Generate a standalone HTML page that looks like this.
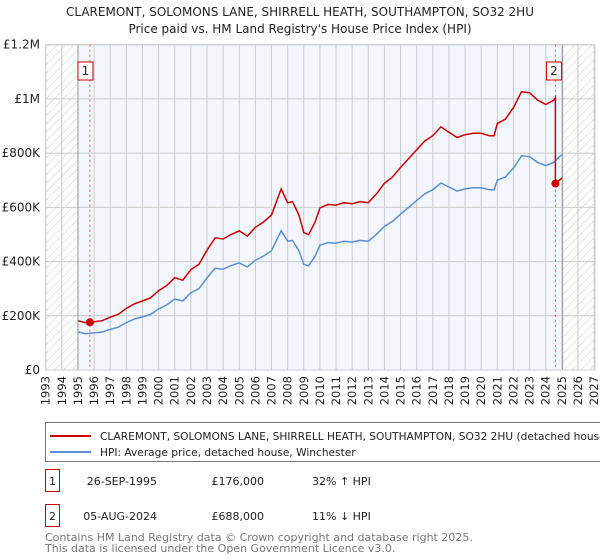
<!DOCTYPE html>
<html><head><meta charset="utf-8"><style>
body{margin:0;width:600px;height:560px;background:#fff;font-family:"Liberation Sans","DejaVu Sans",sans-serif;overflow:hidden}
svg{position:absolute;left:0;top:0}
text{font-family:"DejaVu Sans","Liberation Sans",sans-serif}
</style></head><body>
<svg id="chart" width="600" height="560" viewBox="0 0 600 560"></svg>
<script>
const hpiYears=[1995,1995.5,1996,1996.5,1997,1997.5,1998,1998.5,1999,1999.5,2000,2000.5,2001,2001.5,2002,2002.5,2003,2003.5,2004,2004.5,2005,2005.5,2006,2006.5,2007,2007.6,2008,2008.3,2008.7,2009,2009.3,2009.7,2010,2010.5,2011,2011.5,2012,2012.5,2013,2013.5,2014,2014.5,2015,2015.5,2016,2016.5,2017,2017.5,2018,2018.5,2019,2019.5,2020,2020.5,2020.8,2021,2021.5,2022,2022.5,2023,2023.5,2024,2024.5,2024.6,2025];
const hpiValues=[140,134,137,140,150,158,175,188,196,205,225,240,262,255,285,300,340,375,372,385,395,380,405,420,440,514,475,478,440,390,384,420,460,470,468,475,472,478,475,500,530,548,575,600,625,650,665,690,675,660,668,672,672,665,665,700,712,745,790,787,766,754,766,773,795];
const sale1Year=1995.74, sale1Price=176;
const sale2Year=2024.6, sale2Price=688;
const yTicks=[0,200,400,600,800,1000,1200];
const yTickLabels=["£0","£200K","£400K","£600K","£800K","£1M","£1.2M"];
const xTickYears=[1993,1994,1995,1996,1997,1998,1999,2000,2001,2002,2003,2004,2005,2006,2007,2008,2009,2010,2011,2012,2013,2014,2015,2016,2017,2018,2019,2020,2021,2022,2023,2024,2025,2026,2027];

const svg=document.getElementById('chart');
const NS='http://www.w3.org/2000/svg';
const L=45.7,R=595,T=44.7,B=370;
const x=y=>L+(y-1993)*16.13;
const yv=v=>B-v*(B-T)/1200;
function mk(tag,attrs,parent){const e=document.createElementNS(NS,tag);for(const k in attrs)e.setAttribute(k,attrs[k]);(parent||svg).appendChild(e);return e;}
function interp(t){for(let i=0;i<hpiYears.length-1;i++){if(t>=hpiYears[i]&&t<=hpiYears[i+1]){const f=(t-hpiYears[i])/(hpiYears[i+1]-hpiYears[i]);return hpiValues[i]+f*(hpiValues[i+1]-hpiValues[i]);}}return hpiValues[hpiValues.length-1];}

let t=mk('text',{x:300,y:16,'text-anchor':'middle','font-size':12,fill:'#222'});t.textContent="CLAREMONT, SOLOMONS LANE, SHIRRELL HEATH, SOUTHAMPTON, SO32 2HU";

t=mk('text',{x:300,y:33,'text-anchor':'middle','font-size':12,fill:'#222'});t.textContent="Price paid vs. HM Land Registry's House Price Index (HPI)";


const defs=mk('defs',{});
const pat=mk('pattern',{id:'hatch',width:6,height:6,patternUnits:'userSpaceOnUse',patternTransform:'rotate(45)'},defs);
mk('line',{x1:0,y1:0,x2:0,y2:6,stroke:'#ccc','stroke-width':1},pat);

let bg=mk('rect',{x:L,y:T,width:R-L,height:B-T,fill:'#f3f6fd'});

mk('rect',{x:L,y:T,width:x(1995)-L,height:B-T,fill:'#fff'});
let h1b=mk('rect',{x:L,y:T,width:x(1995)-L,height:B-T,fill:'url(#hatch)'});

mk('rect',{x:x(2025.05),y:T,width:R-x(2025.05),height:B-T,fill:'#fff'});
let h2b=mk('rect',{x:x(2025.05),y:T,width:R-x(2025.05),height:B-T,fill:'url(#hatch)'});


xTickYears.forEach(yr=>{
  const g=mk('line',{x1:x(yr),x2:x(yr),y1:T,y2:B,stroke:'#ccc','stroke-width':1});
  
  const lb=mk('text',{x:0,y:0,'font-size':11.5,fill:'#222','text-anchor':'end',transform:`translate(${x(yr)+4},${B+6}) rotate(-90)`});
  lb.textContent=yr;
  
});
yTicks.forEach((v,i)=>{
  const g=mk('line',{x1:L,x2:R,y1:yv(v),y2:yv(v),stroke:'#ccc','stroke-width':1});
  
  const lb=mk('text',{x:40,y:yv(v)+4,'font-size':12,fill:'#222','text-anchor':'end'});
  lb.textContent=yTickLabels[i];
  
});
mk('line',{x1:x(1995),x2:x(1995),y1:T,y2:B,stroke:'#999','stroke-width':1});
mk('line',{x1:x(2025.05),x2:x(2025.05),y1:T,y2:B,stroke:'#999','stroke-width':1});
mk('rect',{x:L,y:T,width:R-L,height:B-T,fill:'none',stroke:'#ccc'});

[sale1Year,sale2Year].forEach(sy=>{
  const v=mk('line',{x1:x(sy),x2:x(sy),y1:T,y2:B,stroke:'#e55','stroke-width':1,'stroke-dasharray':'2,3'});
  
});

let bp=hpiYears.map((yr,i)=>`${i?'L':'M'}${x(yr).toFixed(1)},${yv(hpiValues[i]).toFixed(1)}`).join(' ');
let blue=mk('path',{d:bp,fill:'none',stroke:'#5b8fd4','stroke-width':1.5});


const r1=sale1Price/interp(sale1Year), r2=sale2Price/interp(sale2Year);
let pts=[];
hpiYears.forEach((yr,i)=>{if(yr<sale2Year)pts.push([x(yr),yv(hpiValues[i]*r1)]);});
pts.push([x(sale2Year),yv(interp(sale2Year)*r1)]);
pts.push([x(sale2Year),yv(sale2Price)]);
pts.push([x(2025),yv(interp(2025)*r2)]);
let red=mk('path',{d:pts.map((p,i)=>`${i?'L':'M'}${p[0].toFixed(1)},${p[1].toFixed(1)}`).join(' '),fill:'none',stroke:'#cc0000','stroke-width':1.5});


[[sale1Year,sale1Price,'1'],[sale2Year,sale2Price,'2']].forEach(s=>{
  const c=mk('circle',{cx:x(s[0]),cy:yv(s[1]),r:4,fill:'#cc0000'});
  
  const bx=s[2]==='1'?x(1995):x(s[0])-9;
  const b=mk('rect',{x:bx,y:62,width:15,height:18,fill:'#fff',stroke:'#cc0000'});
  
  const tt=mk('text',{x:bx+7.5,y:75,'font-size':12,'text-anchor':'middle',fill:'#222'});tt.textContent=s[2];
});

let lg=mk('rect',{x:45.5,y:422.5,width:570,height:39,fill:'#fff',stroke:'#777'});

mk('line',{x1:50,x2:91,y1:436,y2:436,stroke:'#cc0000','stroke-width':2});
t=mk('text',{x:100,y:440,'font-size':10.6,fill:'#222'});t.textContent="CLAREMONT, SOLOMONS LANE, SHIRRELL HEATH, SOUTHAMPTON, SO32 2HU (detached house)";

mk('line',{x1:50,x2:91,y1:452,y2:452,stroke:'#5b8fd4','stroke-width':2});
t=mk('text',{x:100,y:456,'font-size':10.6,fill:'#222'});t.textContent="HPI: Average price, detached house, Winchester";


[['1','26-SEP-1995','£176,000','32% ↑ HPI',481],['2','05-AUG-2024','£688,000','11% ↓ HPI',516]].forEach(r=>{
  const b=mk('rect',{x:45.5,y:r[4]-11.5,width:14,height:22,fill:'#fff',stroke:'#cc0000'});
  
  let a=mk('text',{x:52.5,y:r[4]+4,'font-size':11,'text-anchor':'middle',fill:'#222'});a.textContent=r[0];
  a=mk('text',{x:157,y:r[4]+4,'font-size':11,'text-anchor':'end',fill:'#222'});a.textContent=r[1];
  
  a=mk('text',{x:264,y:r[4]+4,'font-size':11,'text-anchor':'end',fill:'#222'});a.textContent=r[2];
  
  a=mk('text',{x:312,y:r[4]+4,'font-size':11,fill:'#222'});a.textContent=r[3];
  
});
t=mk('text',{x:45,y:541,'font-size':11,fill:'#777'});t.textContent="Contains HM Land Registry data © Crown copyright and database right 2025.";

t=mk('text',{x:45,y:552,'font-size':11,fill:'#777'});t.textContent="This data is licensed under the Open Government Licence v3.0.";

</script>
</body></html>
